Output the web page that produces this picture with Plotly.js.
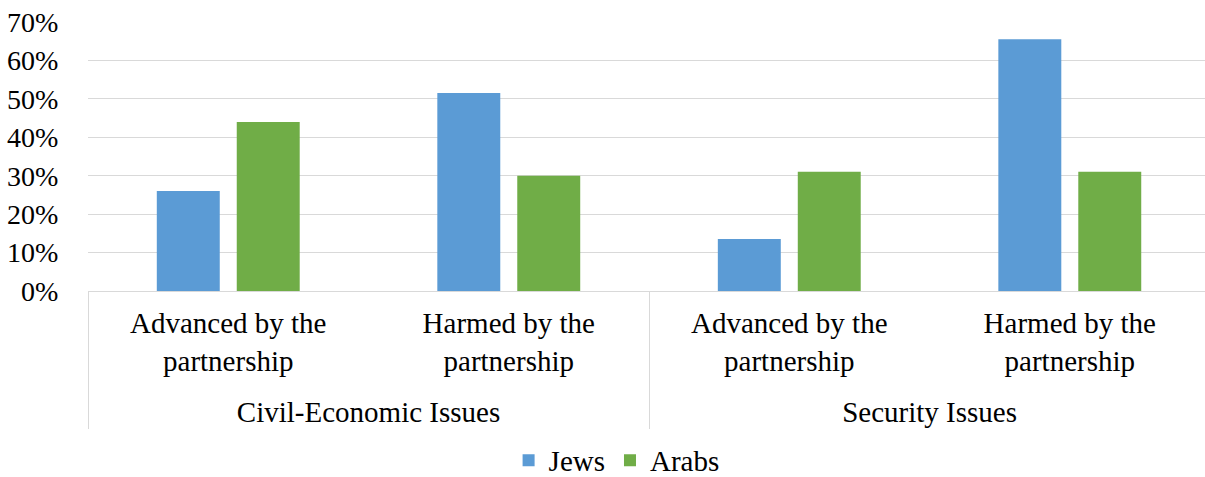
<!DOCTYPE html>
<html>
<head>
<meta charset="utf-8">
<script src="https://cdn.plot.ly/plotly-3.0.1.min.js"></script>
<style>html,body{margin:0;padding:0;background:#fff;}#chart{width:1205px;height:477px;}</style>
</head>
<body>
<div id="chart"></div>
<script>
var groups = ["Civil-Economic Issues", "Civil-Economic Issues", "Security Issues", "Security Issues"];
var subcats = ["Advanced by the<br>partnership", "Harmed by the<br>partnership", "Advanced by the<br>partnership", "Harmed by the<br>partnership"];
var jews = [0.26, 0.515, 0.135, 0.655];
var arabs = [0.44, 0.30, 0.31, 0.31];
var tickVals = [0, 0.1, 0.2, 0.3, 0.4, 0.5, 0.6, 0.7];
var tickText = ["0%", "10%", "20%", "30%", "40%", "50%", "60%", "70%"];

// a blank raised line under the inner labels pushes the group labels down
var spacer = "<br><sup>\u00a0</sup>";
var subLabels = subcats.map(function (s) { return s + spacer; });

var fam = "Liberation Serif, Times New Roman, serif";
var xfont = {family: fam, size: 29, color: "#000"};
var yfont = {family: fam, size: 28, color: "#000"};

var data = [
  {type: "bar", name: "Jews", x: [groups, subLabels], y: jews, marker: {color: "#5b9bd5"}, hoverinfo: "skip"},
  {type: "bar", name: "Arabs", x: [groups, subLabels], y: arabs, marker: {color: "#70ad47"}, hoverinfo: "skip"}
];

var layout = {
  width: 1205, height: 477,
  margin: {l: 88, r: 0, t: 22, b: 186, autoexpand: false},
  paper_bgcolor: "#fff", plot_bgcolor: "#fff",
  font: xfont,
  barmode: "group",
  bargap: 0.43,
  bargroupgap: 0.2125,
  showlegend: true,
  legend: {orientation: "h", x: 0.5117, xanchor: "center", xref: "container", y: 0.035, yanchor: "middle", yref: "container", font: xfont, traceorder: "normal", itemwidth: 30},
  xaxis: {
    type: "multicategory",
    range: [-0.5, 3.482],
    automargin: false,
    showline: true, linecolor: "#d9d9d9", linewidth: 1,
    showdividers: true, dividercolor: "#d9d9d9", dividerwidth: 1,
    tickfont: xfont,
    ticklabelstandoff: 6,
    ticks: "",
    showgrid: false, zeroline: false
  },
  yaxis: {
    range: [0, 0.7],
    automargin: false,
    tickvals: tickVals, ticktext: tickText,
    showgrid: true, gridcolor: "#d9d9d9", gridwidth: 1,
    zeroline: false, showline: false,
    ticks: "outside", ticklen: 23, tickcolor: "rgba(0,0,0,0)",
    tickfont: yfont
  }
};

Plotly.newPlot("chart", data, layout, {displayModeBar: false, staticPlot: true});
</script>
</body>
</html>
